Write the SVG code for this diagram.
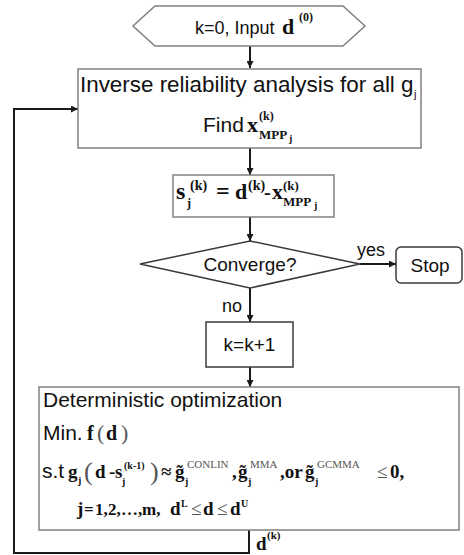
<svg xmlns="http://www.w3.org/2000/svg" width="464" height="555" viewBox="0 0 464 555">
  <defs>
    <marker id="arrow" viewBox="0 0 10 10" refX="10" refY="5" markerWidth="7" markerHeight="7" markerUnits="userSpaceOnUse" orient="auto">
      <path d="M0,0 L10,5 L0,10 z" fill="#1a1a1a"/>
    </marker>
    <style>
      .box { fill: #ffffff; stroke: #808080; stroke-width: 1.5; }
      .dark { fill: #ffffff; stroke: #3a3a3a; stroke-width: 1.5; }
      .edge { fill: none; stroke: #1a1a1a; stroke-width: 2; }
      .sans { font-family: "Liberation Sans", Arial, sans-serif; fill: #111111; }
      .math { font-family: "Liberation Serif", "Times New Roman", serif; font-weight: bold; fill: #111111; }
      .paren { font-family: "Liberation Serif", "Times New Roman", serif; fill: #555555; }
    </style>
  </defs>

  <rect width="464" height="555" fill="#ffffff"/>

  <!-- connectors -->
  <g id="connectors">
    <line class="edge" x1="250" y1="46" x2="250" y2="68" marker-end="url(#arrow)"/>
    <line class="edge" x1="250" y1="148" x2="250" y2="175" marker-end="url(#arrow)"/>
    <line class="edge" x1="250" y1="217" x2="250" y2="241" marker-end="url(#arrow)"/>
    <line class="edge" x1="360" y1="264" x2="396" y2="264" marker-end="url(#arrow)"/>
    <line class="edge" x1="250" y1="288" x2="250" y2="322" marker-end="url(#arrow)"/>
    <line class="edge" x1="250" y1="367" x2="250" y2="387" marker-end="url(#arrow)"/>
    <polyline class="edge" points="249,530 249,553 14,553 14,109 78,109" marker-end="url(#arrow)"/>
    <text class="sans" x="357" y="256" font-size="18">yes</text>
    <text class="sans" x="222" y="312" font-size="18">no</text>
    <text class="math" x="256" y="550" font-size="19">d</text>
    <text class="math" x="267" y="539" font-size="11">(k)</text>
  </g>

  <!-- start -->
  <g id="start">
    <polygon class="box" points="155,6 343,6 365,26 343,46 155,46 133,26"/>
    <text class="sans" x="195" y="34" font-size="18">k=0, Input</text>
    <text class="math" x="282" y="34" font-size="22">d</text>
    <text class="math" x="299" y="21" font-size="12">(0)</text>
  </g>

  <!-- inverse reliability analysis -->
  <g id="inverse-analysis">
    <rect class="box" x="78" y="69" width="343" height="79"/>
    <text class="sans" x="80" y="92" font-size="22.4">Inverse reliability analysis for all g</text>
    <text class="sans" x="414" y="98" font-size="11">j</text>
    <text class="sans" x="203" y="132" font-size="21">Find</text>
    <text class="math" x="247" y="132" font-size="22">x</text>
    <text class="math" x="259" y="120" font-size="12">(k)</text>
    <text class="math" x="259" y="139" font-size="13">MPP</text>
    <text class="math" x="289" y="142" font-size="10">j</text>
  </g>

  <!-- shift vector -->
  <g id="shift">
    <rect class="box" x="173" y="175" width="161" height="42"/>
    <text class="math" x="176" y="199" font-size="24">s</text>
    <text class="math" x="187" y="207" font-size="12">j</text>
    <text class="math" x="190" y="190" font-size="14">(k)</text>
    <text class="math" x="216" y="199" font-size="24">=</text>
    <text class="math" x="235" y="199" font-size="22">d</text>
    <text class="math" x="248" y="190" font-size="14">(k)</text>
    <text class="math" x="264" y="199" font-size="20">-</text>
    <text class="math" x="272" y="199" font-size="22">x</text>
    <text class="math" x="283" y="190" font-size="13">(k)</text>
    <text class="math" x="283" y="206" font-size="13">MPP</text>
    <text class="math" x="314" y="209" font-size="10">j</text>
  </g>

  <!-- convergence check -->
  <g id="converge">
    <polygon class="dark" points="250,241 360,264 250,288 140,264"/>
    <text class="sans" x="250" y="271" font-size="19" text-anchor="middle">Converge?</text>
  </g>

  <!-- stop -->
  <g id="stop">
    <rect class="dark" x="396" y="247" width="66" height="36" rx="5"/>
    <text class="sans" x="430" y="272" font-size="19" text-anchor="middle">Stop</text>
  </g>

  <!-- iteration counter -->
  <g id="increment">
    <rect class="dark" x="206" y="322" width="87" height="45"/>
    <text class="sans" x="249.5" y="351" font-size="19" text-anchor="middle">k=k+1</text>
  </g>

  <!-- deterministic optimization -->
  <g id="optimization">
    <rect class="box" x="39" y="387" width="420" height="143"/>
    <text class="sans" x="43" y="407" font-size="21">Deterministic optimization</text>

    <text class="sans" x="43" y="440" font-size="21">Min.</text>
    <text class="math" x="87" y="440" font-size="20">f</text>
    <text class="paren" x="97" y="440" font-size="22">(</text>
    <text class="math" x="106" y="440" font-size="20">d</text>
    <text class="paren" x="121" y="440" font-size="22">)</text>

    <text class="sans" x="42" y="478" font-size="21">s.t</text>
    <text class="math" x="68" y="478" font-size="19">g</text>
    <text class="math" x="78" y="484" font-size="10">j</text>
    <text class="paren" x="84" y="480" font-size="26">(</text>
    <text class="math" x="95" y="478" font-size="19">d</text>
    <text class="math" x="109" y="478" font-size="19">-</text>
    <text class="math" x="115" y="478" font-size="19">s</text>
    <text class="math" x="122" y="485" font-size="10">j</text>
    <text class="math" x="124" y="469" font-size="10">(k-1)</text>
    <text class="paren" x="150" y="480" font-size="26">)</text>
    <text class="math" x="161" y="478" font-size="19">≈</text>
    <text class="math" x="175" y="478" font-size="19">g̃</text>
    <text class="math" x="185" y="485" font-size="10">j</text>
    <text class="paren" x="187" y="468" font-size="11">CONLIN</text>
    <text class="math" x="232" y="478" font-size="19">,</text>
    <text class="math" x="238" y="478" font-size="19">g̃</text>
    <text class="math" x="248" y="485" font-size="10">j</text>
    <text class="paren" x="250" y="468" font-size="11">MMA</text>
    <text class="math" x="280" y="478" font-size="19">,or</text>
    <text class="math" x="305" y="478" font-size="19">g̃</text>
    <text class="math" x="315" y="485" font-size="10">j</text>
    <text class="paren" x="317" y="468" font-size="11">GCMMA</text>
    <text class="paren" x="377" y="478" font-size="19">≤</text>
    <text class="math" x="390" y="478" font-size="19">0,</text>

    <text class="math" x="77" y="515" font-size="19">j</text>
    <text class="math" x="84" y="515" font-size="17">=</text>
    <text class="math" x="95" y="515" font-size="17">1,</text>
    <text class="math" x="108" y="515" font-size="17">2,</text>
    <text class="math" x="121" y="515" font-size="17">…,</text>
    <text class="math" x="142" y="515" font-size="17">m,</text>
    <text class="math" x="170" y="515" font-size="19">d</text>
    <text class="math" x="181" y="507" font-size="10">L</text>
    <text class="paren" x="191" y="515" font-size="19">≤</text>
    <text class="math" x="203" y="515" font-size="19">d</text>
    <text class="paren" x="217" y="515" font-size="19">≤</text>
    <text class="math" x="230" y="515" font-size="19">d</text>
    <text class="math" x="241" y="507" font-size="10">U</text>
  </g>
</svg>
